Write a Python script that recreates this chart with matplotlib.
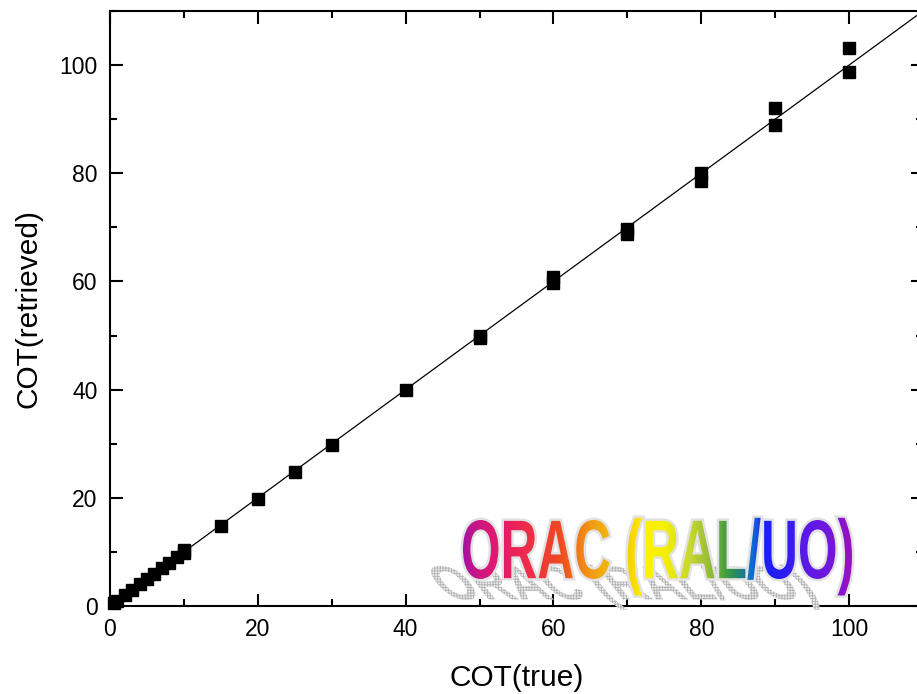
import numpy as np
import matplotlib
matplotlib.use("Agg")
import matplotlib.pyplot as plt
from matplotlib.textpath import TextPath
from matplotlib.font_manager import FontProperties
from matplotlib.patches import PathPatch
from matplotlib.transforms import Affine2D
from matplotlib.colors import LinearSegmentedColormap
from matplotlib.ticker import MultipleLocator

# dane
cot_true = [0.5, 1, 2, 3, 4, 5, 6, 7, 8, 9, 10, 10, 15, 20, 25, 30, 40,
            50, 50, 60, 60, 70, 70, 80, 80, 90, 90, 100, 100]
cot_retrieved = [0.6, 1, 2, 3, 4, 5, 6, 7, 8, 9, 9.8, 10.3, 14.8, 19.8, 24.7, 29.7, 40.0,
                 50.0, 49.5, 60.8, 59.8, 69.7, 68.7, 80.0, 78.5, 92.1, 89.0, 103.1, 98.8]
line_x = [0, 110]
line_y = [0, 110]

x_label = "COT(true)"
y_label = "COT(retrieved)"
logo_text = "ORAC (RAL/UO)"
logo_colors = ["#a8109f", "#d0187f", "#e8186c", "#ee2f47", "#f04a20", "#f29a16",
               "#f8d800", "#fff200", "#f4f000", "#c8d830", "#90b838", "#3c9a40",
               "#1a8080", "#1070d0", "#1a20f8", "#2a1cf0", "#5a1ae8", "#7018dc", "#9a10c0"]
logo_stops = [463, 480, 500, 530, 560, 590, 632, 645, 665, 690, 712, 728,
              742, 752, 765, 785, 805, 830, 852]

plt.rcParams['font.family'] = ['Liberation Sans', 'DejaVu Sans']
plt.rcParams['hatch.linewidth'] = 0.6

fig = plt.figure(figsize=(9.17, 6.94), dpi=100)
ax = fig.add_axes([110/917, 88/694, 813/917, 595/694])

ax.plot(line_x, line_y, color='black', lw=0.9, zorder=2)
ax.plot(cot_true, cot_retrieved, 's', color='black', ms=8.6, zorder=3, clip_on=False)

ax.set_xlim(0, 110)
ax.set_ylim(0, 110)
ax.xaxis.set_major_locator(MultipleLocator(20))
ax.yaxis.set_major_locator(MultipleLocator(20))
ax.xaxis.set_minor_locator(MultipleLocator(10))
ax.yaxis.set_minor_locator(MultipleLocator(10))
ax.tick_params(which='both', direction='in', top=True, right=True, width=1.5,
               labelsize=16.5, pad=9)
ax.tick_params(which='major', length=9)
ax.tick_params(which='minor', length=5)
for s in ax.spines.values():
    s.set_linewidth(1.5)
ax.set_xlabel(x_label, fontsize=21.5, labelpad=16)
ax.set_ylabel(y_label, fontsize=21.5, labelpad=12)

# napis ORAC w stylu WordArt, rysowany w pikselach
ov = fig.add_axes([0, 0, 1, 1], zorder=5)
ov.patch.set_alpha(0)
ov.axis('off')

fp = FontProperties(family='Liberation Sans', weight='bold')
tp = TextPath((0, 0), logo_text, size=100, prop=fp)
cap = TextPath((0, 0), "ORAC", size=100, prop=fp).get_extents()
ext = tp.get_extents()
sx = (852 - 463) / ext.width
sy = (579 - 520) / cap.height

tr = Affine2D().translate(-ext.x0, -cap.y0).scale(sx, sy).translate(463, 694 - 579)
logo = tr.transform_path(tp)

# cien
sh_tr = (Affine2D().translate(-ext.x0, -cap.y0).scale(sx * 0.95, sy * 0.58)
         .skew_deg(-38, 0).translate(450, 694 - 600))
shadow = sh_tr.transform_path(tp)
ov.add_patch(PathPatch(shadow, fc='#ececec', ec='#b4b4b4', hatch='++++++',
                       lw=0, zorder=1))

ov.add_patch(PathPatch(logo, fc='none', ec='#e2e2e2', lw=3.5, zorder=2))

pos = [(p - logo_stops[0]) / (logo_stops[-1] - logo_stops[0]) for p in logo_stops]
cmap = LinearSegmentedColormap.from_list("logo", list(zip(pos, logo_colors)))
grad = np.linspace(0, 1, 800).reshape(1, -1)
im = ov.imshow(grad, cmap=cmap, extent=[463, 852, 694 - 605, 694 - 500],
               aspect='auto', zorder=3, interpolation='bilinear')
im.set_clip_path(logo, ov.transData)

ov.set_xlim(0, 917)
ov.set_ylim(0, 694)

fig.savefig("out.png", dpi=100)
